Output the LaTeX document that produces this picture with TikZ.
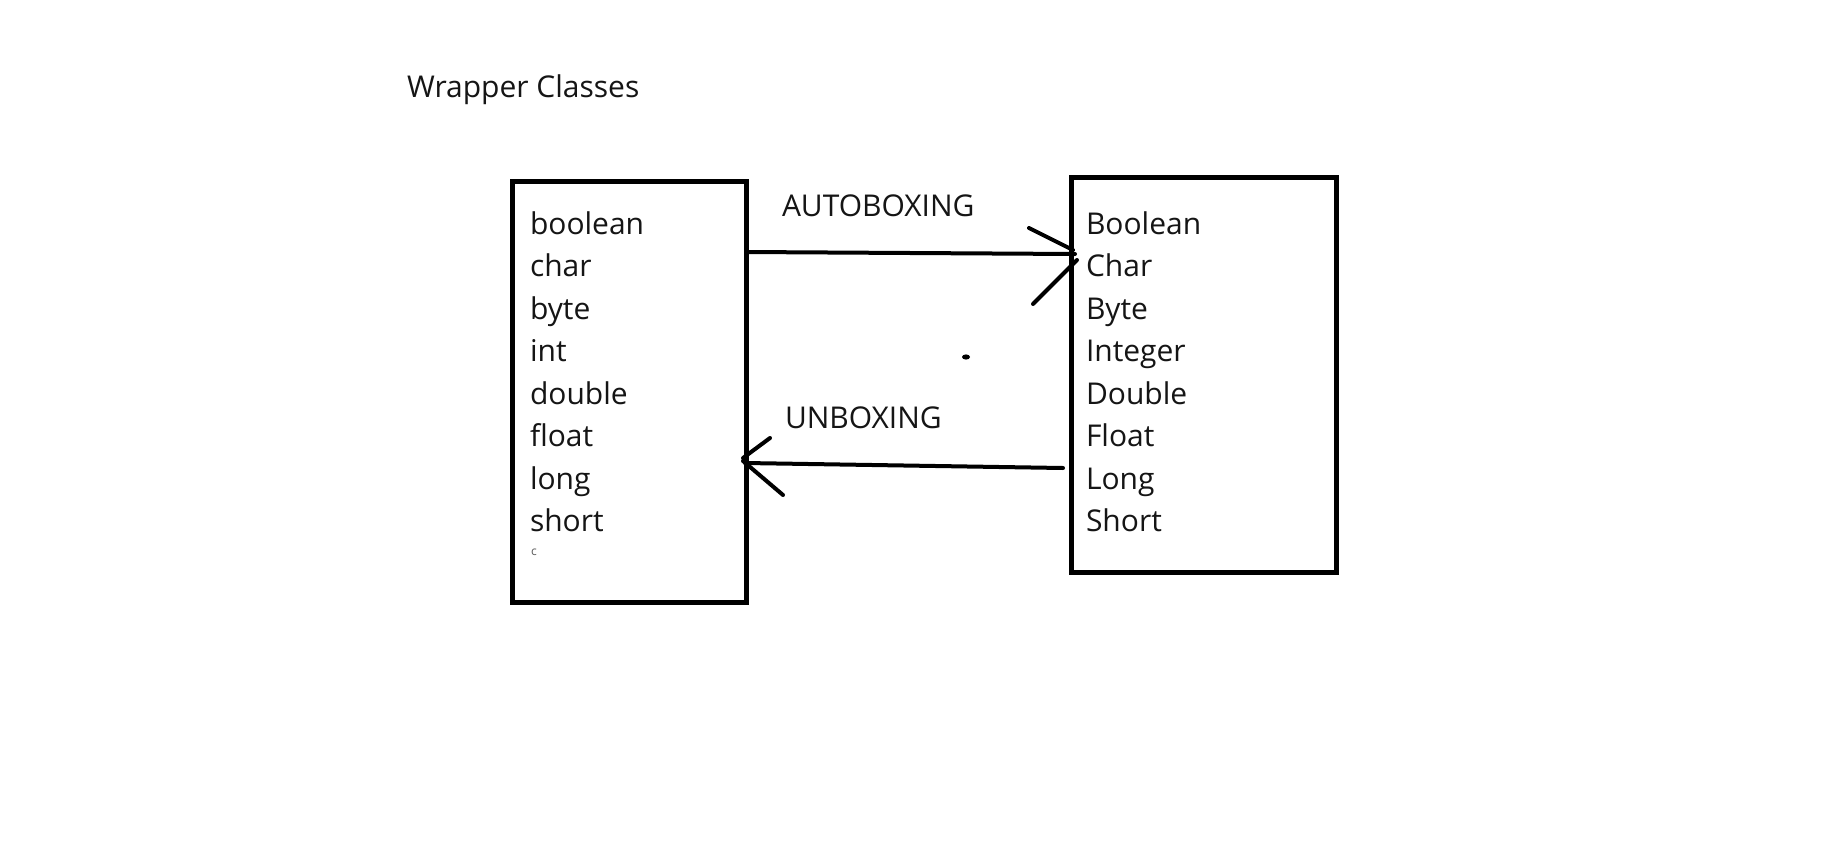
\documentclass[tikz,border=0pt]{standalone}
\usepackage{fontspec}
\setmainfont{Open Sans}
\definecolor{ink}{HTML}{151515}
\begin{document}
\begin{tikzpicture}[x=1pt,y=-1pt,
  every node/.style={inner sep=0pt,outer sep=0pt},
  lbl/.style={anchor=base west,text=ink,font=\fontsize{30}{36}\selectfont},
  boxframe/.style={draw=black,line width=5pt},
  arr/.style={draw=black,line width=4pt,line cap=round}]
\useasboundingbox[fill=white] (0,0) rectangle (1831,846);
\node[lbl] (title) at (407,97) {Wrapper Classes};
% boxes
\node[boxframe,minimum width=234pt,minimum height=421pt] (prim) at (629,391.5) {};
\node[boxframe,minimum width=265pt,minimum height=395pt] (wrap) at (1203.5,374.5) {};
% left list
\foreach \t [count=\i from 0] in {boolean,char,byte,int,double,float,long,short}
  \node[lbl] (p\i) at (530,234+42.5*\i) {\t};
\node[anchor=base west,text=ink!70,font=\fontsize{12}{14}\selectfont] (pc) at (531,555) {c};
% right list
\foreach \t [count=\i from 0] in {Boolean,Char,Byte,Integer,Double,Float,Long,Short}
  \node[lbl] (w\i) at (1086,234+42.5*\i) {\t};
% labels
\node[lbl] (auto) at (782,216) {AUTOBOXING};
\node[lbl] (unbox) at (785,428) {UNBOXING};
% autoboxing arrow
\coordinate (a0) at (prim.east |- 0,252);
\coordinate (a1) at (1075,254);
\coordinate (a2) at (1029,228);
\coordinate (a3) at (1073,250);
\coordinate (a4) at (1033,304);
\coordinate (a5) at (1077,260);
\draw[arr] (a0) -- (a1);
\draw[arr] (a2) -- (a3);
\draw[arr] (a4) -- (a5);
% unboxing arrow
\coordinate (u0) at (1063,468);
\coordinate (u1) at (745,463);
\coordinate (u2) at (770,438);
\coordinate (u3) at (743,458);
\coordinate (u4) at (743,461);
\coordinate (u5) at (783,495);
\draw[arr] (u0) -- (u1);
\draw[arr] (u2) -- (u3);
\draw[arr] (u4) -- (u5);
% stray dot
\fill[black] (966,357) ellipse [x radius=4pt,y radius=2.6pt];
\end{tikzpicture}
\end{document}
